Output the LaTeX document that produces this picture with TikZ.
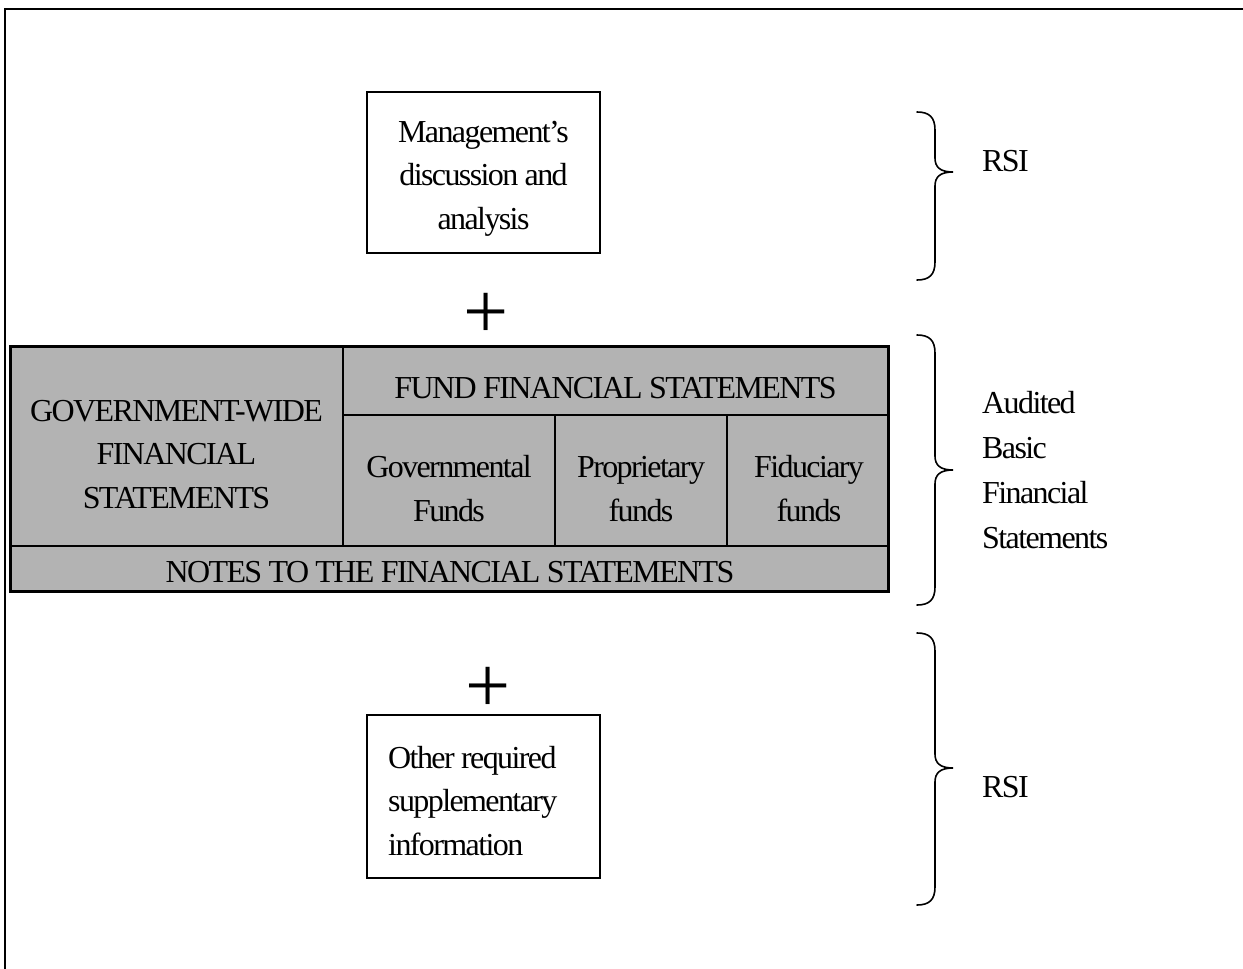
\documentclass[tikz,border=0pt]{standalone}
\usepackage{fontspec}
\setmainfont{Liberation Serif}[LetterSpace=-5]
\newfontfamily\plainserif{Liberation Serif}
\definecolor{cellgrey}{RGB}{179,179,179}
\begin{document}
\begin{tikzpicture}[x=1pt,y=-1pt,
  cell/.style={draw=black, line width=2.2pt, fill=cellgrey, inner sep=0pt, outer sep=0pt},
  wbox/.style={draw=black, line width=1.5pt, fill=white, inner sep=0pt, outer sep=0pt},
  txt/.style={font=\fontsize{32}{43.5}\selectfont, inner sep=0pt},
  brace/.style={line width=1.6pt, line cap=round},
  plussign/.style={font=\plainserif\fontsize{80}{80}\selectfont, inner sep=0pt, anchor=base}]
\useasboundingbox (0,0) rectangle (1243,969);
% frame
\draw[line width=2.6pt] (5,969) -- (5,9) -- (1243,9);
% boxes
\node[wbox, minimum width=233pt, minimum height=161pt] (mda) at (483.5,172.5) {};
\node[cell, minimum width=333pt, minimum height=200pt] (gov) at (176.5,446) {};
\node[cell, minimum width=545pt, minimum height=69pt] (fund) at (615.5,380.5) {};
\node[cell, minimum width=212pt, minimum height=131pt] (govf) at (449,480.5) {};
\node[cell, minimum width=172pt, minimum height=131pt] (prop) at (641,480.5) {};
\node[cell, minimum width=161pt, minimum height=131pt] (fid) at (807.5,480.5) {};
\node[cell, minimum width=878pt, minimum height=45pt] (notes) at (449,568.5) {};
\draw[line width=3pt] (gov.north west) rectangle (notes.south east);
\node[wbox, minimum width=233pt, minimum height=163pt] (other) at (483.5,796.5) {};
% texts (base anchor = last line's baseline)
\node[txt, anchor=base, align=center] (mdatxt) at (483.5,229) {Management’s\\discussion and\\analysis};
\node[txt, anchor=base, align=center] (govtxt) at (176.5,508) {GOVERNMENT-WIDE\\FINANCIAL\\STATEMENTS};
\node[txt, anchor=base] (fundtxt) at (615.5,398) {FUND FINANCIAL STATEMENTS};
\node[txt, anchor=base, align=center] (govftxt) at (449,521) {Governmental\\Funds};
\node[txt, anchor=base, align=center] (proptxt) at (641,521) {Proprietary\\funds};
\node[txt, anchor=base, align=center] (fidtxt) at (809,521) {Fiduciary\\funds};
\node[txt, anchor=base] (notestxt) at (450,582) {NOTES TO THE FINANCIAL STATEMENTS};
\node[txt, anchor=base west, align=left] (othertxt) at (388,855) {Other required\\supplementary\\information};
% plus signs
\node[plussign] (plus1) at (486,338) {+};
\node[plussign] (plus2) at (488,712) {+};
% braces
\draw[brace] (917,112) .. controls (929,112) and (935,117) .. (935,130) -- (935,158) .. controls (935,167) and (940,172) .. (953,172) .. controls (940,172) and (935,177) .. (935,186) -- (935,262) .. controls (935,275) and (929,280) .. (917,280);
\draw[brace] (917,335) .. controls (929,335) and (935,340) .. (935,353) -- (935,456) .. controls (935,465) and (940,470) .. (953,470) .. controls (940,470) and (935,475) .. (935,484) -- (935,587) .. controls (935,600) and (929,605) .. (917,605);
\draw[brace] (917,633) .. controls (929,633) and (935,638) .. (935,651) -- (935,754) .. controls (935,763) and (940,768) .. (953,768) .. controls (940,768) and (935,773) .. (935,782) -- (935,887) .. controls (935,900) and (929,905) .. (917,905);
% labels
\node[txt, anchor=base west] (rsi1) at (982,171) {RSI};
\node[txt, anchor=base west, align=left, font=\fontsize{32}{44.7}\selectfont] (abfs) at (982,548) {Audited\\Basic\\Financial\\Statements};
\node[txt, anchor=base west] (rsi2) at (982,797) {RSI};
\end{tikzpicture}
\end{document}
